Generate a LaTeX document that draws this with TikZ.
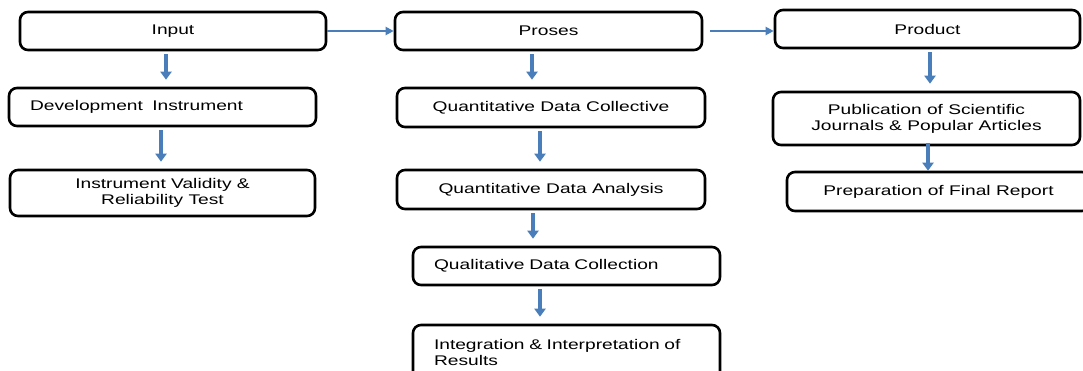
\documentclass[tikz,border=0pt]{standalone}
\usepackage{fontspec}
\setmainfont{Liberation Sans}[FakeStretch=1.37]
\usetikzlibrary{arrows.meta}
\definecolor{flowblue}{HTML}{4A7EBB}

\begin{document}
\begin{tikzpicture}[x=1pt,y=-1pt]
			\clip (0,0) rectangle (1083,370);
			\fill[white] (0,0) rectangle (1083,370);
			\begin{scope}[every node/.style={draw,line width=2.6pt,rounded corners=8pt,fill=white,minimum height=38pt,align=center,inner sep=0pt,font=\fontsize{14}{16}\selectfont}]
				% input column
				\node[minimum width=306pt] (in) at (173,31) {Input};
				\node[minimum width=307pt,text width=265pt,inner xsep=21pt,align=left] (dev) at (162.5,107) {Development\ \ Instrument};
				\node[minimum width=305pt,minimum height=46pt] (val) at (162.5,193) {Instrument Validity \&\\Reliability Test};
				% process column
				\node[minimum width=307pt] (pro) at (548.5,31) {Proses};
				\node[minimum width=308pt,minimum height=39pt] (qdc) at (551,107.5) {Quantitative Data Collective};
				\node[minimum width=308pt,minimum height=39pt] (qda) at (551,189.5) {Quantitative Data Analysis};
				\node[minimum width=307pt,text width=265pt,inner xsep=21pt,align=left] (qual) at (566.5,266) {Qualitative Data Collection};
				\node[minimum width=307pt,minimum height=55pt,text width=265pt,inner xsep=21pt,align=left] (integ) at (566.5,352.5) {Integration \& Interpretation of\\Results};
				% product column
				\node[minimum width=305pt] (prod) at (927.5,29) {Product};
				\node[minimum width=307pt,minimum height=53pt] (pub) at (926.5,118.5) {Publication of Scientific\\Journals \& Popular Articles};
				\node[minimum width=303pt,minimum height=39pt] (prep) at (938.5,191.5) {Preparation of Final Report};
			\end{scope}
			
			\begin{scope}[every edge/.style={draw=flowblue,line width=3.5pt,-{Triangle[length=8pt,width=11pt]},shorten <=3pt,shorten >=7pt}]
				\path ([xshift=-7pt]in.south) edge ([xshift=3.5pt]dev.north);
				\path ([xshift=-1.5pt]dev.south) edge ([xshift=-1.5pt]val.north);
				\path ([xshift=-16.5pt]pro.south) edge ([xshift=-19pt]qdc.north);
				\path ([xshift=-11pt]qdc.south) edge ([xshift=-11pt]qda.north);
				\path ([xshift=-18pt]qda.south) edge ([xshift=-33.5pt]qual.north);
				\path ([xshift=-26.5pt]qual.south) edge ([xshift=-26.5pt]integ.north);
				\path ([xshift=2.5pt]prod.south) edge ([xshift=3.5pt]pub.north);
				\path ([xshift=1.5pt]pub.south) edge[shorten <=-3pt,shorten >=0pt] ([xshift=-10.5pt]prep.north);
				% links between the columns
				\path (in.east) edge[line width=2pt,-{Triangle[length=8pt,width=8pt]},shorten <=0pt,shorten >=0pt] (pro.west);
				\path (pro.east) edge[line width=2pt,-{Triangle[length=8pt,width=8pt]},shorten <=7pt,shorten >=0pt] (pro.east -| prod.west);
			\end{scope}
		\end{tikzpicture}
\end{document}
